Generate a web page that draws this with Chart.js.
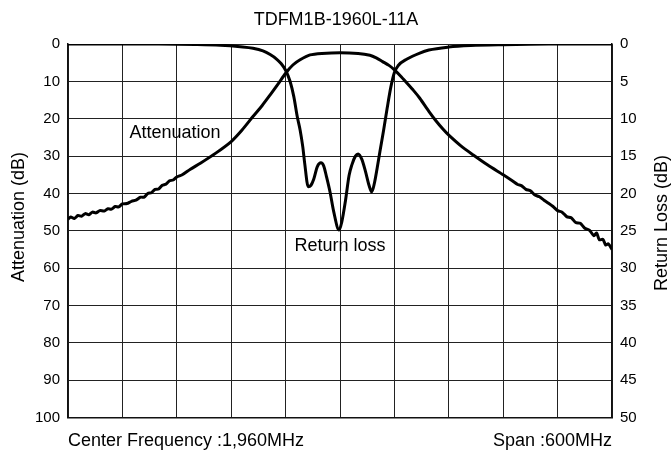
<!DOCTYPE html>
<html>
<head>
<meta charset="utf-8">
<script src="https://cdn.jsdelivr.net/npm/chart.js@4.4.1/dist/chart.umd.min.js"></script>
<style>
  body { margin: 0; background: #fff; }
  #wrap { width: 672px; height: 451px; position: relative; }
</style>
</head>
<body>
<div id="wrap"><canvas id="myChart"></canvas></div>
<script>
// frequency in MHz (center 1960, span 600)
var attFreq = [1660, 1663, 1667, 1671, 1675, 1679, 1683, 1687, 1691, 1695, 1700, 1704, 1708, 1712, 1716,
  1720, 1725, 1730, 1735, 1740, 1744, 1748, 1752, 1756, 1760, 1764, 1768, 1772, 1776, 1780, 1786,
  1795, 1806, 1823, 1840, 1852, 1864, 1874, 1883, 1892, 1900, 1908, 1916, 1927, 1940, 1960, 1980,
  1993, 2000, 2007, 2014, 2020, 2027, 2034, 2041, 2048, 2058, 2066, 2074, 2080, 2093, 2107, 2123,
  2140, 2150, 2156, 2160, 2165, 2170, 2175, 2180, 2185, 2190, 2195, 2200, 2205, 2210, 2215, 2220,
  2225, 2230, 2235, 2240, 2243, 2246, 2250, 2253, 2256, 2260];
var attValues = [46.9, 46.3, 46.7, 45.9, 46.1, 45.4, 45.7, 45.0, 45.2, 44.6, 44.7, 44.1, 44.2, 43.5, 43.6,
  42.8, 42.7, 42.1, 41.8, 41.0, 41.0, 40.0, 39.8, 38.9, 38.8, 37.8, 37.5, 36.6, 36.4, 35.6, 35.0,
  33.5, 31.9, 29.2, 26.1, 23.0, 19.4, 16.5, 13.6, 10.6, 7.8, 5.6, 4.2, 2.9, 2.5, 2.3, 2.5,
  3.0, 3.7, 4.7, 5.7, 6.9, 8.6, 10.5, 12.4, 14.5, 18.0, 20.6, 22.9, 24.4, 27.2, 29.7, 32.4,
  35.0, 36.6, 37.6, 37.9, 38.9, 39.3, 40.4, 40.9, 41.8, 42.6, 43.5, 44.6, 45.0, 46.2, 46.5, 47.8,
  48.0, 49.3, 49.8, 51.3, 50.6, 52.4, 52.3, 53.8, 53.5, 55.0];

var rlFreq = [1660, 1700, 1760, 1800, 1828, 1850, 1864, 1875, 1883, 1890, 1895, 1900, 1905, 1909, 1913,
  1916, 1919, 1921, 1925, 1928, 1931, 1935, 1939, 1942, 1945, 1949, 1953, 1959, 1962, 1966, 1970,
  1973, 1977, 1980, 1984, 1988, 1992, 1995, 1998, 2001, 2004, 2008, 2012, 2016, 2020, 2024, 2034,
  2048, 2058, 2080, 2104, 2140, 2190, 2260];
var rlValues = [0, 0, 0, 0.05, 0.15, 0.35, 0.55, 0.9, 1.4, 2.0, 2.6, 3.5, 5.0, 7.0, 9.8,
  11.5, 13.8, 15.9, 19.1, 18.9, 18.1, 16.4, 15.9, 16.3, 17.7, 19.8, 22.4, 24.9, 23.8, 21.0, 17.6,
  16.2, 15.0, 14.7, 15.4, 17.0, 18.9, 19.8, 18.6, 16.6, 14.4, 11.6, 8.6, 5.8, 3.8, 2.9, 2.0,
  1.2, 0.8, 0.4, 0.2, 0.08, 0, 0];

var attTicks = [0, 10, 20, 30, 40, 50, 60, 70, 80, 90, 100];
var rlTicks = [0, 5, 10, 15, 20, 25, 30, 35, 40, 45, 50];

var noteText = ["Attenuation", "Return loss"];
var noteFreq = [1778, 1960];
var noteDb = [23.8, 54.2];

function toPoints(xs, ys) {
  var pts = [];
  for (var i = 0; i < xs.length; i++) {
    pts.push({ x: xs[i], y: ys[i] });
  }
  return pts;
}

Chart.defaults.font.family = "'Liberation Sans', Arial, sans-serif";
Chart.defaults.color = "#000";

// both axis titles read bottom-to-top, so they are drawn here
function sideTitle(ctx, text, x, y) {
  ctx.save();
  ctx.translate(x, y);
  ctx.rotate(-Math.PI / 2);
  ctx.textAlign = "center";
  ctx.textBaseline = "alphabetic";
  ctx.fillText(text, 0, 0);
  ctx.restore();
}

var textPlugin = {
  id: "textPlugin",
  afterDraw: function (chart) {
    var ctx = chart.ctx;
    var area = chart.chartArea;
    var xs = chart.scales.x;
    var ys = chart.scales.y;
    ctx.save();
    ctx.fillStyle = "#000";
    ctx.font = "18px 'Liberation Sans', Arial, sans-serif";
    ctx.textBaseline = "middle";
    ctx.textAlign = "center";
    for (var i = 0; i < noteText.length; i++) {
      ctx.fillText(noteText[i], xs.getPixelForValue(noteFreq[i]), ys.getPixelForValue(noteDb[i]));
    }
    ctx.textBaseline = "alphabetic";
    ctx.textAlign = "left";
    ctx.fillText("Center Frequency :1,960MHz", area.left, 446);
    ctx.textAlign = "right";
    ctx.fillText("Span :600MHz", area.right, 446);
    sideTitle(ctx, "Attenuation (dB)", 23.5, 217);
    sideTitle(ctx, "Return Loss (dB)", 666.5, 223);
    ctx.restore();
  },
};

new Chart("myChart", {
  type: "line",
  data: {
    datasets: [
      {
        label: "Attenuation",
        data: toPoints(attFreq, attValues),
        yAxisID: "y",
        borderColor: "#000",
        borderWidth: 3,
        pointRadius: 0,
        tension: 0.25,
      },
      {
        label: "Return loss",
        data: toPoints(rlFreq, rlValues),
        yAxisID: "y1",
        borderColor: "#000",
        borderWidth: 3,
        pointRadius: 0,
        cubicInterpolationMode: "monotone",
      },
    ],
  },
  options: {
    responsive: true,
    maintainAspectRatio: false,
    animation: false,
    layout: { padding: 0 },
    plugins: {
      legend: { display: false },
      tooltip: { enabled: false },
      title: {
        display: true,
        text: "TDFM1B-1960L-11A",
        font: { size: 18, weight: "normal" },
        padding: { top: 9, bottom: 13.5 },
      },
    },
    scales: {
      x: {
        type: "linear",
        min: 1660,
        max: 2260,
        ticks: { display: false, stepSize: 60 },
        grid: { color: "#222", lineWidth: 1, drawTicks: false },
        border: { color: "#111", width: 1.5 },
        afterFit: function (scale) { scale.height = 33.5; },
      },
      y: {
        position: "left",
        reverse: true,
        min: 0,
        max: 100,
        afterBuildTicks: function (scale) {
          scale.ticks = attTicks.map(function (v) { return { value: v }; });
        },
        ticks: { font: { size: 15 }, padding: 8 },
        grid: { color: "#222", lineWidth: 1, drawTicks: false },
        border: { color: "#111", width: 1.5 },
        afterFit: function (scale) { scale.width = 68; },
      },
      y1: {
        position: "right",
        reverse: true,
        min: 0,
        max: 50,
        afterBuildTicks: function (scale) {
          scale.ticks = rlTicks.map(function (v) { return { value: v }; });
        },
        ticks: { font: { size: 15 }, padding: 8 },
        grid: { display: false, drawTicks: false },
        border: { color: "#111", width: 1.5 },
        afterFit: function (scale) { scale.width = 60; },
      },
    },
  },
  plugins: [textPlugin],
});
</script>
</body>
</html>
